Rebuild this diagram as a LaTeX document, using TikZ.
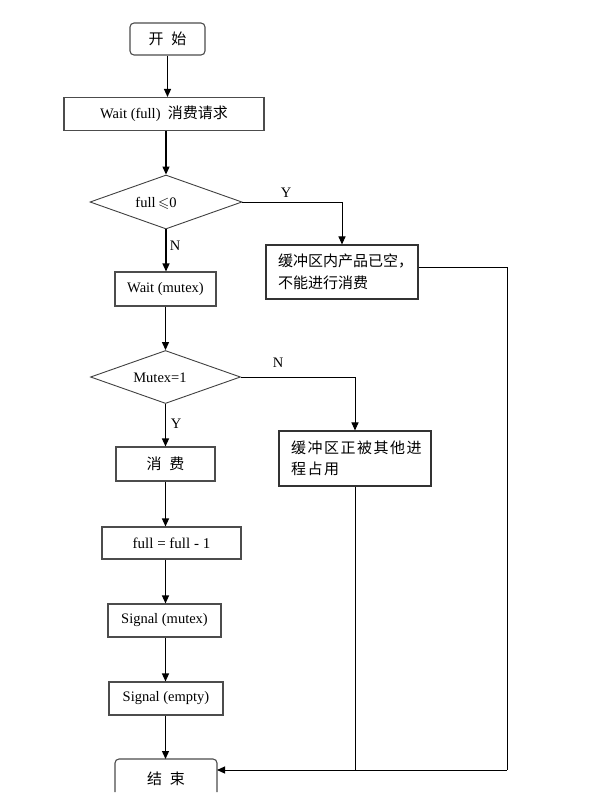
\documentclass[tikz,border=0pt]{standalone}
\usepackage{amssymb}
\usepackage{fontspec}
\setmainfont{Liberation Serif}
\newfontfamily\cjk{Noto Sans CJK SC}
\newfontfamily\cjkw[LetterSpace=10]{Noto Sans CJK SC}
\usetikzlibrary{arrows.meta,shapes.geometric}
\begin{document}
\begin{tikzpicture}[x=1pt,y=-1pt,
  box/.style={draw=black!70,line width=1.1pt,rectangle,inner sep=0pt,align=center,font=\fontsize{14.5}{16}\selectfont},
  tbox/.style={draw=black!80,line width=1.1pt,rectangle,inner xsep=12pt,inner ysep=0pt,align=left,font=\fontsize{15}{21.5}\selectfont},
  dia/.style={draw=black!75,line width=0.9pt,diamond,inner sep=0pt},
  arr/.style={-{Triangle[length=8pt,width=7pt]},line width=1.3pt},
  ln/.style={line width=0.9pt},
  lab/.style={font=\fontsize{14.5}{16}\selectfont,inner sep=0pt},
  zh/.style={font=\fontsize{15}{18}\selectfont\cjk}]
\useasboundingbox (0,0) rectangle (605,809);
% start
\node[box,rounded corners=4pt,minimum width=75pt,minimum height=32pt,font=\fontsize{15}{18}\selectfont\cjk] (start) at (167.5,39) {开\hspace{8pt}始};
\node[box,minimum width=200pt,minimum height=33pt] (wf) at (164,114) {Wait (full)\ \ {\fontsize{15}{18}\selectfont\cjk 消费请求}};
\node[dia,minimum width=152pt,minimum height=54pt] (d1) at (166,202) {};
\node[lab] (d1t) at (156,203) {full\,$\leqslant$0};
\node[tbox,text width=128pt,minimum height=54pt] (empty) at (342,272) {\cjk 缓冲区内产品已空，\\不能进行消费};
\node[box,minimum width=101pt,minimum height=34pt] (wm) at (165.5,289) {Wait (mutex)};
\node[dia,minimum width=150pt,minimum height=53pt] (d2) at (165.5,377) {};
\node[lab] (d2t) at (160,378) {Mutex=1};
\node[tbox,text width=128pt,minimum height=55pt] (busy) at (355,458.5) {\cjkw 缓冲区正被其他进\\程占用};
\node[box,minimum width=99pt,minimum height=34pt,font=\fontsize{15}{18}\selectfont\cjk] (xf) at (165.5,464) {消\hspace{8pt}费};
\node[box,minimum width=139pt,minimum height=32pt,font=\fontsize{15}{16}\selectfont] (dec) at (171.5,543) {full = full - 1};
\node[box,minimum width=113pt,minimum height=33pt] (sm) at (164.5,620.5) {Signal (mutex)};
\node[box,minimum width=114pt,minimum height=33pt] (se) at (166,698.5) {Signal (empty)};
% end box (bottom cut off)
\node[inner sep=0pt,minimum width=102pt,minimum height=40pt,font=\fontsize{15}{18}\selectfont\cjk] (end) at (166,779) {结\hspace{8pt}束};
\draw[draw=black!70,line width=1.1pt,rounded corners=4pt] (115,792) -- (115,759) -- (217,759) -- (217,792);
% labels
\node[lab] (ly1) at (286,193) {Y};
\node[lab] (ln1) at (175,246) {N};
\node[lab] (ln2) at (278,363) {N};
\node[lab] (ly2) at (176,424) {Y};
% connectors
\draw[arr] (start.south) -- (start.south |- wf.north);
\draw[arr] (d1.north |- wf.south) -- (d1.north);
\draw[arr] (d1.south) -- (d1.south |- wm.north);
\draw[arr,line width=1pt] (d1.east) -| (empty.north);
\draw[arr] (wm.south) -- (d2.north);
\draw[arr,line width=1pt] (d2.east) -| (busy.north);
\draw[arr] (d2.south) -- (d2.south |- xf.north);
\draw[arr] (xf.south) -- (xf.south |- dec.north);
\draw[arr] (xf.south |- dec.south) -- (xf.south |- sm.north);
\draw[arr] (xf.south |- sm.south) -- (xf.south |- se.north);
\draw[arr] (xf.south |- se.south) -- (xf.south |- 0,759);
\coordinate (c1) at (507,770);
\coordinate (c2) at (217,770);
\draw[ln] (empty.east |- 0,267) -| (c1);
\draw[arr,line width=1pt] (c1) -- (c2);
\draw[ln] (busy.south) -- (busy.south |- c1);
\end{tikzpicture}
\end{document}
